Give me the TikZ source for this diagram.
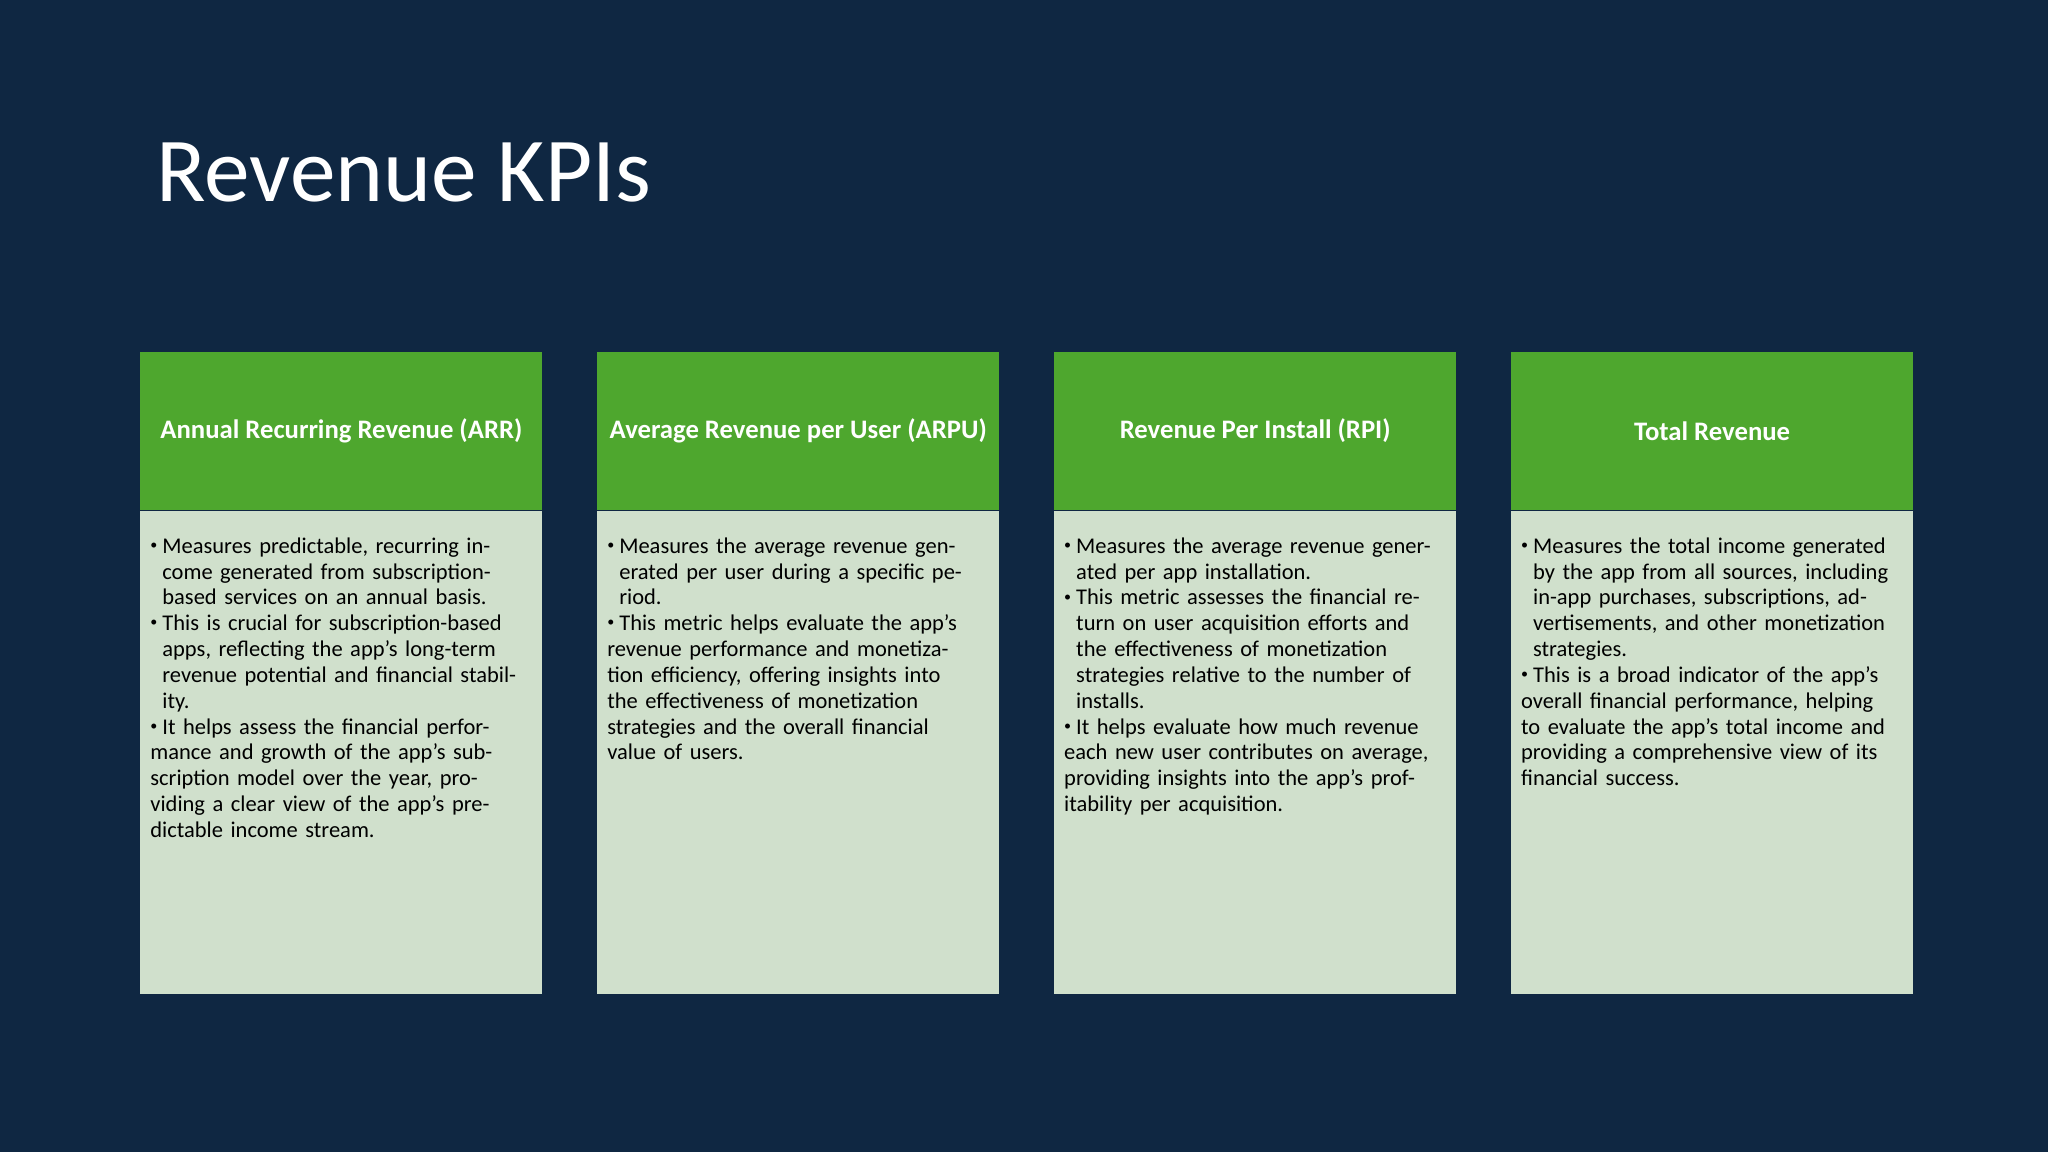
\documentclass[tikz,border=0pt]{standalone}
\usepackage{fontspec}
\setmainfont{Carlito}
\usetikzlibrary{positioning}
\definecolor{slidebg}{HTML}{0F2742}
\definecolor{kpigreen}{HTML}{4EA72E}
\definecolor{kpilight}{HTML}{D0E0CC}
\newcommand\kpiitem{\par\noindent\hangindent=1.2mm\hangafter=1\makebox[1.2mm][l]{\raisebox{0.35ex}{\fontsize{4}{4}\selectfont\textbullet}}}
\begin{document}
\begin{tikzpicture}[
    font=\fontsize{6.4}{7.35}\selectfont,
    node distance=0.535cm,
    base/.style={rectangle,inner sep=0pt,minimum width=4.02cm},
    header/.style={base,fill=kpigreen,minimum height=1.58cm,text=white,
      font=\fontsize{7.6}{9}\selectfont\bfseries},
    card/.style={base,fill=kpilight,minimum height=4.83cm},
    cardtext/.style={text width=3.70cm,align=left,anchor=north west,inner sep=0pt}
  ]

  \fill[slidebg] (0,0) rectangle (20.48,11.52);
  \useasboundingbox (0,0) rectangle (20.48,11.52);

  \node(title) [anchor=base west,text=white,font=\fontsize{26}{30}\selectfont,inner sep=0pt]
    at (1.56,9.5) {Revenue KPIs};

  \node(h1) [header,anchor=north west] at (1.397,8.007) {Annual Recurring Revenue (ARR)};
  \node(h2) [header,right=of h1] {Average Revenue per User (ARPU)};
  \node(h3) [header,right=of h2] {Revenue Per Install (RPI)};
  \node(h4) [header,right=of h3] {Total Revenue};

  \node(b1) [card,below=0pt of h1] {};
  \node(b2) [card,below=0pt of h2] {};
  \node(b3) [card,below=0pt of h3] {};
  \node(b4) [card,below=0pt of h4] {};

  \node(t1) [cardtext] at ([xshift=0.10cm,yshift=-0.16cm]b1.north west) {%
    \kpiitem Measures predictable, recurring income generated from subscription-based services on an annual basis.
    \kpiitem This is crucial for subscription-based apps, reflecting the app’s long-term revenue potential and financial stability.
    \kpiitem It helps assess the financial performance and growth of the app’s subscription model over the year, providing a clear view of the app’s predictable income stream.};
  \node(t2) [cardtext] at ([xshift=0.10cm,yshift=-0.16cm]b2.north west) {%
    \kpiitem Measures the average revenue generated per user during a specific period.
    \kpiitem This metric helps evaluate the app's revenue performance and monetization efficiency, offering insights into the effectiveness of monetization strategies and the overall financial value of users.};
  \node(t3) [cardtext] at ([xshift=0.10cm,yshift=-0.16cm]b3.north west) {%
    \kpiitem Measures the average revenue generated per app installation.
    \kpiitem This metric assesses the financial return on user acquisition efforts and the effectiveness of monetization strategies relative to the number of installs.
    \kpiitem It helps evaluate how much revenue each new user contributes on average, providing insights into the app’s profitability per acquisition.};
  \node(t4) [cardtext] at ([xshift=0.10cm,yshift=-0.16cm]b4.north west) {%
    \kpiitem Measures the total income generated by the app from all sources, including in-app purchases, subscriptions, advertisements, and other monetization strategies.
    \kpiitem This is a broad indicator of the app’s overall financial performance, helping to evaluate the app’s total income and providing a comprehensive view of its financial success.};

\end{tikzpicture}
\end{document}
